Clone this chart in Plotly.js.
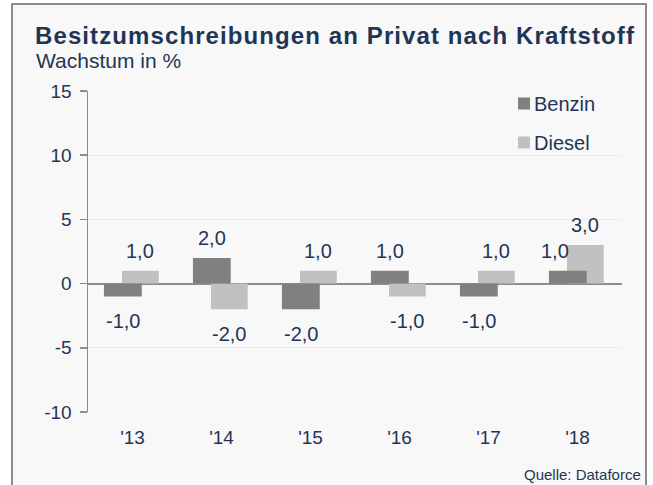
<!DOCTYPE html>
<html>
<head>
<meta charset="utf-8">
<script src="https://cdn.plot.ly/plotly-3.0.1.min.js"></script>
<style>
  html, body { margin: 0; padding: 0; background: #ffffff; }
  #chart { width: 653px; height: 485px; }
  .gtitle { letter-spacing: 1.1px; }
</style>
</head>
<body>
<div id="chart"></div>
<script>
// ---- data ----
const years = ["'13", "'14", "'15", "'16", "'17", "'18"];
const benzin = [-1.0, 2.0, -2.0, 1.0, -1.0, 1.0];
const diesel = [1.0, -2.0, 1.0, -1.0, 1.0, 3.0];
const seriesNames = ["Benzin", "Diesel"];
const yTicks = [-10, -5, 0, 5, 10, 15];
const titleText = "Besitzumschreibungen an Privat nach Kraftstoff";
const subtitleText = "Wachstum in %";
const sourceText = "Quelle: Dataforce";

// ---- style ----
const navy = "#1F3556";
const font = "Liberation Sans, Arial, sans-serif";
const colBenzin = "#808080";
const colDiesel = "#C0C0C0";

const fmt = v => v.toFixed(1).replace(".", ",");

const W = 653, H = 485;
const mL = 88, mR = 31, mT = 91, mB = 73;
const pw = W - mL - mR, ph = H - mT - mB;
const px2x = p => (p - mL) / pw;
const py2y = p => (H - mB - p) / ph;

const catPx = pw / years.length;
const bOff = -0.321, bW = 0.425;
const dOff = -0.118, dW = 0.413;
const bShift = (bOff + bW / 2) * catPx;
const dShift = (dOff + dW / 2) * catPx;

const traces = [
  {
    type: "bar", name: seriesNames[1], x: years, y: diesel,
    offset: dOff, width: dW, marker: { color: colDiesel },
    legendgroup: "d", legendrank: 2, hoverinfo: "skip"
  },
  {
    type: "bar", name: seriesNames[0], x: years, y: benzin,
    offset: bOff, width: bW, marker: { color: colBenzin },
    legendgroup: "b", legendrank: 1, hoverinfo: "skip"
  }
];

const annotations = [];
function addLabels(vals, shift, isBenzin) {
  vals.forEach((v, i) => {
    let xs = shift;
    if (isBenzin && i === vals.length - 1) xs -= 13;
    annotations.push({
      x: years[i], y: v, xref: "x", yref: "y",
      text: fmt(v), showarrow: false,
      xshift: xs, yshift: v >= 0 ? 20 : -25,
      xanchor: "center", yanchor: "middle",
      font: { family: font, size: 20, color: navy }
    });
  });
}
addLabels(benzin, bShift, true);
addLabels(diesel, dShift, false);

annotations.push({
  xref: "paper", yref: "paper", x: px2x(34), y: py2y(60),
  xanchor: "left", yanchor: "middle", showarrow: false,
  text: subtitleText, font: { family: font, size: 21, color: navy }
});
annotations.push({
  xref: "paper", yref: "paper", x: px2x(643), y: py2y(475),
  xanchor: "right", yanchor: "middle", showarrow: false,
  text: sourceText, font: { family: font, size: 15, color: navy }
});

const layout = {
  width: W, height: H,
  margin: { l: mL, r: mR, t: mT, b: mB, pad: 0 },
  paper_bgcolor: "#ffffff",
  plot_bgcolor: "rgba(0,0,0,0)",
  barmode: "overlay",
  showlegend: true,
  title: {
    text: "<b>" + titleText + "</b>",
    xref: "container", yref: "container",
    x: 35 / W, xanchor: "left",
    y: 1 - 36 / H, yanchor: "middle",
    font: { family: font, size: 24, color: navy }
  },
  xaxis: {
    type: "category", range: [-0.5, 5.5],
    showgrid: false, showline: false, zeroline: false,
    ticks: "", ticklabelstandoff: 12,
    tickfont: { family: font, size: 19, color: navy },
    fixedrange: true
  },
  yaxis: {
    range: [-10, 15], tickvals: yTicks, ticktext: yTicks.map(String),
    showgrid: true, gridcolor: "#EBEBEB", gridwidth: 1,
    zeroline: true, zerolinecolor: "#8C8C8C", zerolinewidth: 2,
    showline: true, linecolor: "#8C8C8C", linewidth: 1.5,
    ticks: "outside", ticklen: 7, tickcolor: "#8C8C8C", tickwidth: 1.5,
    ticklabelstandoff: 4,
    tickfont: { family: font, size: 19, color: navy },
    fixedrange: true
  },
  legend: {
    x: px2x(494), y: py2y(84), xanchor: "left", yanchor: "top",
    bgcolor: "rgba(0,0,0,0)", traceorder: "grouped", tracegroupgap: 10,
    itemwidth: 30,
    font: { family: font, size: 20, color: navy }
  },
  shapes: [{
    type: "rect", xref: "paper", yref: "paper", layer: "below",
    x0: px2x(12), x1: px2x(646), y0: py2y(520), y1: py2y(4),
    fillcolor: "#F8F8F8", line: { color: "#8C8C8C", width: 2 }
  }],
  annotations: annotations
};

Plotly.newPlot("chart", traces, layout, { displayModeBar: false, staticPlot: true })
  .then(gd => {
    // nudge legend swatches closer to their labels, as in the reference
    gd.querySelectorAll(".legend .legendpoints").forEach(g => {
      g.setAttribute("transform", "translate(10,0)");
    });
  });
</script>
</body>
</html>
